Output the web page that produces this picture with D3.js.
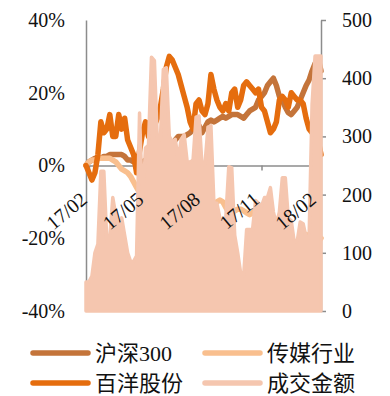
<!DOCTYPE html>
<html>
<head>
<meta charset="utf-8">
<script src="https://cdn.jsdelivr.net/npm/d3@7"></script>
<style>
  body { margin: 0; background: #fff; }
  svg text { font-family: "Liberation Serif", "Noto Sans CJK SC", serif; fill: #111; }
</style>
</head>
<body>
<div id="svg-container"></div>
<script>
// 데이터 (일별 대략 3거래일 간격)
const hs300 = [0, 1, 1.5, 2, 2, 2, 2.5, 2.5, 3, 3, 3, 3, 3, 2.5, 1.5, 1.5, 1, 0.5, 0.5, 1,
  1.5, 2, 2.5, 3, 3.5, 4, 4, 4.5, 5, 6, 7, 8, 8, 8, 8.5, 9, 10, 11, 11, 9,
  10.5, 12, 12.5, 12, 12.5, 13, 13.5, 13, 13.5, 14, 14, 14, 13.5, 13, 14, 15, 15.5, 16, 18, 19,
  20, 22, 23, 24, 22, 19, 18, 16, 14.5, 14, 15, 16, 18, 20, 22, 23.5, 26, 28, 29.5, 26];
const media = [0, 1, 1.5, 1.5, 2, 2, 2, 2, 2, 1.5, 1, 0, -1, -1.5, -2, -3, -4.5, -6, -7.5, -9,
  -10, -11, -11.5, -12, -12.5, -12, -11.5, -11, -11, -10.5, -10, -10, -10.5, -11, -11, -11.5, -12, -12, -12, -12.5,
  -12, -11.5, -11, -10.5, -10, -9.5, -10, -11.5, -13, -13, -12.5, -12, -12, -12.5, -13, -13.5, -13, -12, -13, -14,
  -15, -16, -16.5, -17, -17.5, -18, -18.5, -19, -19.5, -20, -21, -21, -20.5, -19.5, -19, -20, -21, -22, -21, -20];
const baiyang = [0, -2, -4, -2, 3, 12, 9, 10, 14, 8, 8, 14, 10, 13, 7, 5, 3, -2, 4, 9,
  12, 8, 14, 11, 13, 16, 21, 27, 30, 29, 27, 25, 22, 19, 16, 12, 10, 17, 18, 15,
  14, 17, 25, 21, 18, 16, 15, 17, 15, 20, 21, 16, 18, 22, 23, 22, 21, 20, 21, 16,
  15, 12, 9, 10, 12, 18, 19, 18, 16, 20, 19, 18, 18, 17, 13, 10, 9, 8, 7, 3];
const volume = [50, 50, 60, 100, 115, 240, 240, 120, 125, 195, 165, 140, 160, 130, 100, 85, 85, 95, 340, 180,
  280, 285, 436, 430, 290, 295, 415, 418, 300, 290, 295, 260, 295, 303, 257, 255, 260, 333, 335, 250,
  252, 316, 318, 185, 185, 160, 150, 160, 248, 246, 130, 100, 65, 60, 140, 140, 140, 190, 185, 180,
  195, 195, 212, 170, 150, 170, 229, 229, 160, 155, 119, 120, 153, 150, 126, 126, 355, 438, 438, 438];

const tickIdx = [1, 20, 39, 59, 78];
const tickLabels = ["17/02", "17/05", "17/08", "17/11", "18/02"];
const leftTicks = [-40, -20, 0, 20, 40];
const rightTicks = [0, 100, 200, 300, 400, 500];

const seriesNames = ["沪深300", "传媒行业", "百洋股份", "成交金额"];
const colors = ["#C4743A", "#F9BF8E", "#E56D0E", "#F5C6AF"];

////////////////////////////////////////////////////////////////////
const width = 390;
const height = 396;
const plot = { left: 86, right: 321, top: 20, bottom: 311 };

const svg = d3.select("#svg-container").append("svg")
  .attr("width", width).attr("height", height);

const xScale = d3.scaleLinear().domain([0, volume.length - 1]).range([plot.left, plot.right]);
const yLeft = d3.scaleLinear().domain([-40, 40]).range([plot.bottom, plot.top]);
const yRight = d3.scaleLinear().domain([0, 500]).range([plot.bottom, plot.top]);

// 축
svg.append("g")
  .attr("class", "y-axis")
  .attr("transform", `translate(${plot.left},0)`)
  .call(d3.axisLeft(yLeft).tickValues(leftTicks).tickSize(0).tickPadding(21)
    .tickFormat((d) => d + "%"))
  .call((g) => g.select(".domain").attr("stroke", "#8c8c8c").attr("stroke-width", 1.5))
  .call((g) => g.selectAll("text").style("font-size", "20px"));

svg.append("g")
  .attr("class", "y-axis-right")
  .attr("transform", `translate(${plot.right},0)`)
  .call(d3.axisRight(yRight).tickValues(rightTicks).tickSize(5).tickSizeOuter(0).tickPadding(16))
  .call((g) => g.select(".domain").attr("stroke", "#8c8c8c").attr("stroke-width", 1.5))
  .call((g) => g.selectAll(".tick line").attr("stroke", "#8c8c8c").attr("stroke-width", 1.5))
  .call((g) => g.selectAll("text").style("font-size", "20px"));

svg.append("g")
  .attr("class", "x-axis")
  .attr("transform", `translate(0,${yLeft(0)})`)
  .call(d3.axisBottom(xScale).tickValues(tickIdx).tickSize(5).tickSizeOuter(0).tickFormat(""))
  .call((g) => g.select(".domain").attr("stroke", "#8c8c8c").attr("stroke-width", 1.5))
  .call((g) => g.selectAll(".tick line").attr("stroke", "#8c8c8c").attr("stroke-width", 1.5));

// 선
const lineL = d3.line()
  .x((d, i) => xScale(i))
  .y((d) => yLeft(d));

[hs300, media, baiyang].forEach((s, k) => {
  svg.append("path")
    .datum(s)
    .attr("fill", "none")
    .attr("stroke", colors[k])
    .attr("stroke-width", 5.5)
    .attr("stroke-linejoin", "round")
    .attr("stroke-linecap", "round")
    .attr("d", lineL);
});

// 거래금액
const areaV = d3.area()
  .x((d, i) => xScale(i))
  .y0(plot.bottom)
  .y1((d) => yRight(d));

svg.append("path")
  .datum(volume)
  .attr("fill", colors[3])
  .attr("stroke", colors[3])
  .attr("stroke-width", 3.5)
  .attr("stroke-linejoin", "round")
  .attr("d", areaV);

// 날짜 라벨 (회전) - 맨 위에
svg.selectAll(".x-label")
  .data(tickIdx)
  .enter()
  .append("text")
  .attr("class", "x-label")
  .attr("transform", (d) => `translate(${xScale(d) - 0.5},${yLeft(0) + 36}) rotate(-40)`)
  .attr("text-anchor", "end")
  .style("font-size", "20px")
  .text((d, i) => tickLabels[i]);

// 범례
const legendPos = [
  { x: 33, y: 353 }, { x: 205, y: 353 },
  { x: 33, y: 383 }, { x: 205, y: 383 },
];
const legendOrder = [0, 1, 2, 3];

const legend = svg.selectAll(".legend")
  .data(legendOrder)
  .enter()
  .append("g")
  .attr("class", "legend")
  .attr("transform", (d, i) => `translate(${legendPos[i].x},${legendPos[i].y})`);

legend.append("line")
  .attr("x1", 0).attr("x2", 55)
  .attr("stroke", (d) => colors[d])
  .attr("stroke-width", 5.5)
  .attr("stroke-linecap", "round");

legend.append("text")
  .attr("x", 62)
  .attr("dy", "0.36em")
  .style("font-size", "22px")
  .text((d) => seriesNames[d]);
</script>
</body>
</html>
